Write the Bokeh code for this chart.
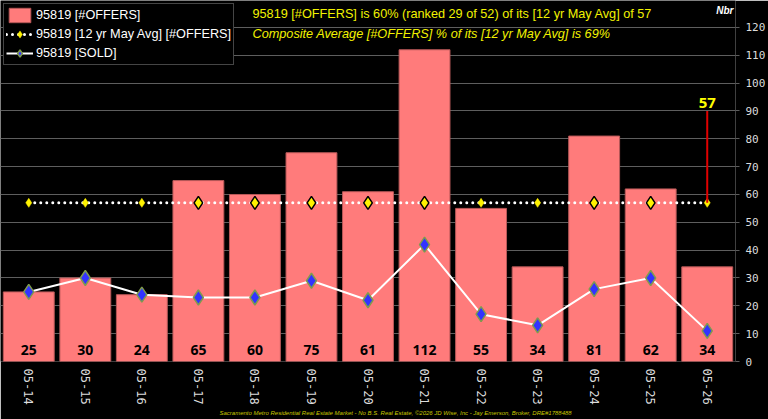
import math
from bokeh.plotting import figure
from bokeh.models import (ColumnDataSource, FactorRange, Range1d, FixedTicker, Label,
                          Legend, LegendItem, Title)
from bokeh.core.properties import value
from bokeh.embed import file_html
from bokeh.resources import INLINE

# ---- data ----
months = ["05-14", "05-15", "05-16", "05-17", "05-18", "05-19", "05-20",
          "05-21", "05-22", "05-23", "05-24", "05-25", "05-26"]
offers = [25, 30, 24, 65, 60, 75, 61, 112, 55, 34, 81, 62, 34]
sold = [25, 30, 24, 23, 23, 29, 22, 42, 17, 13, 26, 30, 11]
avg12 = [57, 57, 57, 57, 57, 57, 57, 57, 57, 57, 57, 57, 57]
y_ticks = [0, 10, 20, 30, 40, 50, 60, 70, 80, 90, 100, 110, 120]
callout_value = 57
callout_top = 90

title1 = "95819 [#OFFERS] is 60% (ranked 29 of 52) of its [12 yr May Avg] of 57"
title2 = "Composite Average [#OFFERS] % of its [12 yr May Avg] is 69%"
footer = ("Sacramento Metro Residential Real Estate Market - No B.S. Real Estate, "
          "\u00a92026 JD Wise, Inc - Jay Emerson, Broker, DRE#1788488")

src = ColumnDataSource(dict(m=months, offers=offers, sold=sold, avg=avg12,
                            lbl=[str(v) for v in offers], base=[0] * len(months)))
big = [i for i in range(len(months)) if offers[i] >= avg12[i]]
small = [i for i in range(len(months)) if offers[i] < avg12[i]]
src_big = ColumnDataSource(dict(m=[months[i] for i in big], avg=[avg12[i] for i in big]))
src_small = ColumnDataSource(dict(m=[months[i] for i in small], avg=[avg12[i] for i in small]))

p = figure(x_range=FactorRange(*months, range_padding=0),
           y_range=Range1d(0, 129.7),
           width=768, height=419, output_backend="svg", toolbar_location=None,
           y_axis_location="right",
           min_border_left=0, min_border_top=0, min_border_right=30, min_border_bottom=58)
p.background_fill_color = "black"
p.border_fill_color = "black"
p.outline_line_color = None

# grid
p.xgrid.grid_line_color = None
p.ygrid.grid_line_color = "#5e5e5e"
p.ygrid.grid_line_width = 1
p.ygrid.ticker = FixedTicker(ticks=y_ticks)

# axes
ya = p.yaxis[0]
ya.ticker = FixedTicker(ticks=y_ticks)
ya.axis_line_color = None
ya.major_tick_line_color = "#5e5e5e"
ya.major_tick_out = 4
ya.major_tick_in = 0
ya.minor_tick_line_color = None
ya.major_label_standoff = 6
ya.major_label_text_font = "DejaVu Sans Mono"
ya.major_label_text_font_size = "11px"
ya.major_label_text_color = "#dcdcdc"

xa = p.xaxis[0]
xa.axis_line_color = None
xa.major_tick_line_color = None
xa.major_tick_out = 0
xa.major_tick_in = 0
xa.minor_tick_line_color = None
xa.major_label_orientation = -math.pi / 2
xa.major_label_standoff = 7
xa.major_label_text_font = "DejaVu Sans Mono"
xa.major_label_text_font_size = "12px"
xa.major_label_text_color = "#dcdcdc"

# bars
bars = p.vbar(x="m", top="offers", width=0.9, source=src,
              fill_color="#FF7B7B", line_color="#B85858", line_width=1)

# value labels
p.text(x="m", y="base", text="lbl", source=src, text_align="center",
       text_baseline="bottom", y_offset=-7, text_font=value("Open Sans"),
       text_font_style="bold", text_font_size="14px", text_color="black")

# average line
avg_line = p.line(x="m", y="avg", source=src, line_color="white", line_width=3,
                  line_dash="0 6", line_cap="round")
avg_small = p.scatter(x="m", y="avg", source=src_small, marker="diamond", size=9,
                      fill_color="#FFF200", line_color="#FFF200", line_width=0.5)
avg_big = p.scatter(x="m", y="avg", source=src_big, marker="diamond", size=13,
                    fill_color="#FFF200", line_color="black", line_width=1.5)

# sold line
sold_line = p.line(x="m", y="sold", source=src, line_color="white", line_width=2)
sold_pts = p.scatter(x="m", y="sold", source=src, marker="diamond", size=15,
                     fill_color="#3333FF", line_color="#7E9A4E", line_width=1.5)

# callout
p.segment(x0=[months[-1]], y0=[callout_value], x1=[months[-1]], y1=[callout_top],
          line_color="#E00000", line_width=2)
p.text(x=[months[-1]], y=[callout_top], text=[str(callout_value)], text_align="center",
       text_baseline="bottom", y_offset=-3, text_font=value("Open Sans"),
       text_font_style="bold", text_font_size="15px", text_color="#FFFF00")

# legend
legend = Legend(items=[
    LegendItem(label="95819 [#OFFERS]", renderers=[bars]),
    LegendItem(label="95819 [12 yr May Avg] [#OFFERS]", renderers=[avg_line, avg_small]),
    LegendItem(label="95819 [SOLD]", renderers=[sold_line, sold_pts]),
], location="top_left")
legend.margin = 3
legend.padding = 2
legend.spacing = 1
legend.glyph_width = 27
legend.glyph_height = 18
legend.label_height = 18
legend.label_standoff = 3
legend.label_text_font = "Liberation Sans"
legend.label_text_font_size = "12.7px"
legend.label_text_color = "white"
legend.background_fill_color = "black"
legend.background_fill_alpha = 1
legend.border_line_color = "#8a8a8a"
legend.border_line_width = 1
p.add_layout(legend)

# titles
p.add_layout(Label(x=252, y=361 - 13, x_units="screen", y_units="screen", text=title1,
                   text_baseline="middle", text_font="Liberation Sans",
                   text_font_size="12.7px", text_color="#F2F200"))
p.add_layout(Label(x=252, y=361 - 33, x_units="screen", y_units="screen", text=title2,
                   text_baseline="middle", text_font="Liberation Sans",
                   text_font_style="italic", text_font_size="12.7px", text_color="#F2F200"))

# footer (below the axis)
p.add_layout(Title(text=footer, align="left", offset=219, standoff=0,
                   text_font="Liberation Sans", text_font_style="italic",
                   text_font_size="6px", text_color="#C8C800"), "below")

# unit label at the top right of the plot area
p.add_layout(Label(x=733, y=10, x_units="canvas", y_units="canvas", text="Nbr",
                   text_align="right", text_baseline="middle", text_font="Liberation Sans",
                   text_font_style="bold italic", text_font_size="10px", text_color="white"))

open("out.html", "w").write(file_html(p, INLINE))
